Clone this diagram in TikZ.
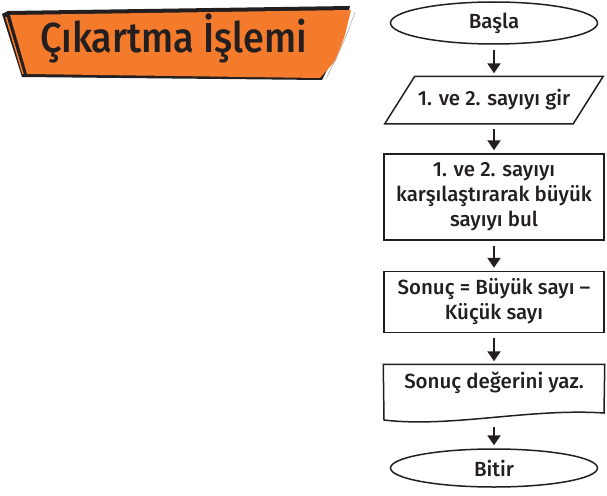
\documentclass[tikz,border=0pt]{standalone}
\usepackage{fontspec}
\setmainfont{Fira Sans}[UprightFont = * Medium]
\usetikzlibrary{shapes.geometric,arrows.meta}
\definecolor{ink}{HTML}{231F20}
\definecolor{banner}{HTML}{F47B2C}
\tikzset{
  box/.style = {draw = ink, line width = 1.5pt, minimum width = 220pt, align = center, inner sep = 0pt, font = \fontsize{20.5}{25}\selectfont, text = ink},
  oval/.style = {ellipse, draw = ink, line width = 1.5pt, minimum width = 207pt, inner sep = 0pt, font = \fontsize{20.5}{25}\selectfont, text = ink},
  arrow/.style = {draw = ink, line width = 2.4pt, -{Triangle[length = 10pt, width = 13pt]}, shorten < = 5pt, shorten > = 3pt}
}
\begin{document}
\begin{tikzpicture}[x = 1pt, y = -1pt]
\useasboundingbox (0,0) rectangle (607,495);
\fill[ink] (2,14) -- (8,11) -- (350,6) -- (342,40) -- (322,80) -- (22,77) -- cycle;
\fill[banner] (10,15) -- (351,10) -- (345,35) -- (336,60) -- (320,78) -- (27,74) -- cycle;
\draw[banner, line width = 1.5pt] (6,17) -- (23,74);
\draw[gray!60, line width = 0.6pt] (355,12) .. controls (345,40) .. (326,79);
\node[text = ink, font = \fontsize{42}{42}\selectfont] (title) at (174,38) {\scalebox{0.9}[1]{Çıkartma İşlemi}};
\node[oval, minimum height = 42pt] (basla) at (494,23) {Başla};
\node[box, draw = none, minimum width = 217pt, minimum height = 46pt] (gir) at (494,100) {1. ve 2. sayıyı gir};
\draw[ink, line width = 1.5pt] ([xshift = 30pt]gir.north west) -- (gir.north east) -- ([xshift = -30pt]gir.south east) -- (gir.south west) -- cycle;
\node[box, minimum height = 86pt] (karsi) at (494,197) {1. ve 2. sayıyı\\karşılaştırarak büyük\\sayıyı bul};
\node[box, minimum height = 61pt] (sonuc) at (494,302) {Sonuç = Büyük sayı –\\Küçük sayı};
\node[box, draw = none, minimum height = 36pt] (yaz) at (494,383) {Sonuç değerini yaz.};
\draw[ink, line width = 1.5pt] (yaz.north west) -- (yaz.north east) -- (604,413) .. controls (530,408) and (450,428) .. (384,420) -- cycle;
\coordinate (yazend) at (494,422);
\node[oval, minimum height = 38pt] (bitir) at (494,468) {Bitir};
\foreach \a/\b in {basla/gir, gir/karsi, karsi/sonuc, sonuc/yaz}
  \draw[arrow] (\a.south) -- (\b.north);
\draw[arrow] (yazend) -- (bitir.north);
\end{tikzpicture}
\end{document}
